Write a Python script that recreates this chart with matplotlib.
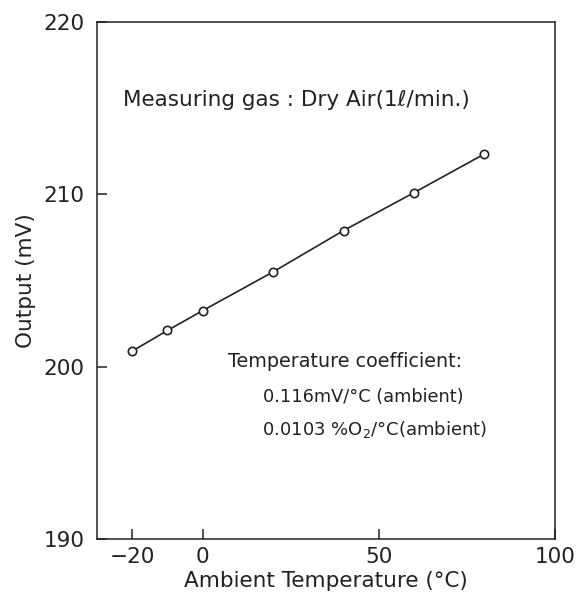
import matplotlib
matplotlib.use("Agg")
import matplotlib.pyplot as plt

# ambient temperature (deg C) and sensor output (mV)
temperature = [-20, -10, 0, 20, 40, 60, 80]
output_mv = [200.9, 202.1, 203.25, 205.5, 207.9, 210.1, 212.35]

x_ticks = [-20, 0, 50, 100]
y_ticks = [190, 200, 210, 220]

fig = plt.figure(figsize=(5.81, 6.0), dpi=100)
ax = fig.add_axes([0.167, 0.102, 0.788, 0.861])

ax.plot(temperature, output_mv, color="#222222", lw=1.2,
        marker="o", markersize=6, markerfacecolor="white",
        markeredgecolor="#222222", markeredgewidth=1.2)

ax.set_xlim(-30, 100)
ax.set_ylim(190, 220)
ax.set_xticks(x_ticks)
ax.set_yticks(y_ticks)
ax.tick_params(direction="in", length=7, width=1.1, labelsize=15.5,
               colors="#222222")
ax.tick_params(axis="x", pad=6)
ax.tick_params(axis="y", pad=9)
for s in ax.spines.values():
    s.set_linewidth(1.1)
    s.set_color("#222222")

ax.set_xlabel("Ambient Temperature (°C)", fontsize=15.5, color="#222222", labelpad=3)
ax.set_ylabel("Output (mV)", fontsize=15.5, color="#222222", labelpad=5)

tk = dict(transform=ax.transAxes, color="#222222", va="center", ha="left")
ax.text(0.057, 0.849, "Measuring gas : Dry Air(1ℓ/min.)", fontsize=15.5, **tk)
ax.text(0.286, 0.344, "Temperature coefficient:", fontsize=13.8, **tk)
ax.text(0.362, 0.275, "0.116mV/°C (ambient)", fontsize=12.8, **tk)
ax.text(0.360, 0.211, "0.0103 %O$_2$/°C(ambient)", fontsize=13, **tk)

fig.savefig("out.png", dpi=100)
